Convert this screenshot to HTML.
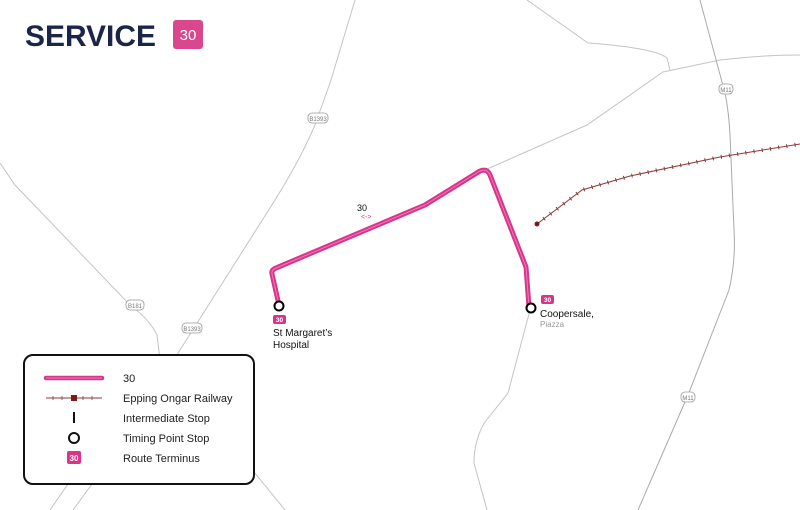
<!DOCTYPE html>
<html><head><meta charset="utf-8"><style>
html,body{margin:0;padding:0;background:#fff;}
body{width:800px;height:510px;position:relative;overflow:hidden;font-family:"Liberation Sans",sans-serif;}
svg{position:absolute;left:0;top:0;}
</style></head><body>
<svg width="800" height="510" viewBox="0 0 800 510" xmlns="http://www.w3.org/2000/svg">
<g fill="none" stroke="#c4c4c4" stroke-width="1">
<path d="M355,0 L331,80 L315,125 Q300,160 275,200 L180,350 L160,382"/>
<path d="M0,163 L15,185 L130,305 Q150,320 157,335 L160,360"/>
<path d="M527,0 L588,43 Q655,48 667,58 L670,70"/>
<path d="M485,170 L587,125 L663,72 L720,60 Q760,55 800,55"/>
<path d="M700,0 L722,82 Q728,100 730,135 L734,230 Q736,260 729,290 L688,395 L638,510" stroke="#aaa"/>
<path d="M530,310 L508,393 L485,422 Q474,440 474,463 L487,510"/>
<path d="M68,484 L50,510 M92,484 L73,510 M254,472 L285,510"/>
</g>
<g font-size="6" fill="#777" text-anchor="middle" font-family="Liberation Sans,sans-serif">
<rect x="308" y="113" width="20" height="10" rx="4" fill="#fff" stroke="#999" stroke-width="0.8"/><text x="318" y="121">B1393</text>
<rect x="126" y="300" width="18" height="10" rx="4" fill="#fff" stroke="#999" stroke-width="0.8"/><text x="135" y="308">B181</text>
<rect x="182" y="323" width="20" height="10" rx="4" fill="#fff" stroke="#999" stroke-width="0.8"/><text x="192" y="331">B1393</text>
<rect x="719" y="84" width="14" height="10" rx="4" fill="#fff" stroke="#999" stroke-width="0.8"/><text x="726" y="92">M11</text>
<rect x="681" y="392" width="14" height="10" rx="4" fill="#fff" stroke="#999" stroke-width="0.8"/><text x="688" y="400">M11</text>
</g>
<path d="M537,224 L582,190 L630,176 L720,157 L800,144" fill="none" stroke="#8a3a3a" stroke-width="1"/>
<path d="M537,224 L582,190 L630,176 L720,157 L800,144" fill="none" stroke="#8a3a3a" stroke-width="4" stroke-dasharray="1 7.3"/>
<circle cx="537" cy="224" r="2.5" fill="#7a1a1a"/>
<path d="M279,305 L272,274 Q271,270 276,268 L425,205 L480,171 Q487,168 490,175 L526,267 L529,307" fill="none" stroke="#d9338a" stroke-width="5" stroke-linejoin="round"/>
<path d="M279,305 L272,274 Q271,270 276,268 L425,205 L480,171 Q487,168 490,175 L526,267 L529,307" fill="none" stroke="#f07cb8" stroke-width="1" stroke-linejoin="round"/>
<circle cx="279" cy="306" r="4.5" fill="#fff" stroke="#000" stroke-width="2"/>
<circle cx="531" cy="308" r="4.5" fill="#fff" stroke="#000" stroke-width="2"/>
<text x="357" y="211" font-size="9" fill="#111">30</text>
<text x="361" y="219" font-size="7" fill="#d9338a">&lt;-&gt;</text>
<rect x="273" y="315" width="13" height="9" rx="2" fill="#d9338a"/><text x="279.5" y="322" font-size="6.5" fill="#fff" text-anchor="middle" font-weight="bold">30</text>
<text x="273" y="336" font-size="10" fill="#111">St Margaret’s</text>
<text x="273" y="348" font-size="10" fill="#111">Hospital</text>
<rect x="541" y="295" width="13" height="9" rx="2" fill="#d9338a"/><text x="547.5" y="302" font-size="6.5" fill="#fff" text-anchor="middle" font-weight="bold">30</text>
<text x="540" y="317" font-size="10" fill="#111">Coopersale,</text>
<text x="540" y="327" font-size="8" fill="#999">Piazza</text>
<text x="25" y="46" font-size="30" font-weight="bold" fill="#1b2548" textLength="131" lengthAdjust="spacingAndGlyphs">SERVICE</text>
<rect x="173" y="20" width="30" height="29" rx="3" fill="#d9478f"/>
<text x="188" y="40" font-size="15" fill="#fff" text-anchor="middle">30</text>
<rect x="24" y="355" width="230" height="129" rx="9" fill="#fff" stroke="#111" stroke-width="2"/>
<line x1="46" y1="378" x2="102" y2="378" stroke="#d9338a" stroke-width="4.5" stroke-linecap="round"/>
<line x1="46" y1="378" x2="102" y2="378" stroke="#f07cb8" stroke-width="1"/>
<line x1="46" y1="398" x2="102" y2="398" stroke="#8a3a3a" stroke-width="1"/>
<path d="M53,396v4M62,396v4M83,396v4M92,396v4" stroke="#8a3a3a" stroke-width="0.8"/>
<rect x="71" y="395" width="6" height="6" fill="#7a1a1a"/>
<line x1="74" y1="412" x2="74" y2="423" stroke="#111" stroke-width="2"/>
<circle cx="74" cy="438" r="5" fill="#fff" stroke="#111" stroke-width="2"/>
<rect x="67" y="451" width="14" height="13" rx="2" fill="#d9338a"/><text x="74" y="461" font-size="8" fill="#fff" text-anchor="middle" font-weight="bold">30</text>
<g font-size="11" fill="#222">
<text x="123" y="382">30</text>
<text x="123" y="402">Epping Ongar Railway</text>
<text x="123" y="422">Intermediate Stop</text>
<text x="123" y="442">Timing Point Stop</text>
<text x="123" y="462">Route Terminus</text>
</g>
</svg>
</body></html>
